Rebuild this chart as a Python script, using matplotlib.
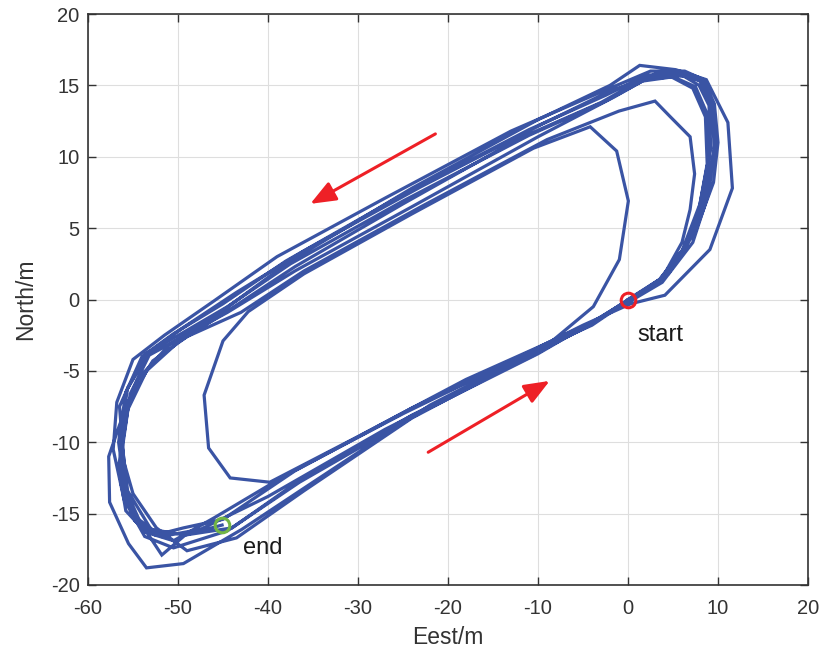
import matplotlib
matplotlib.use("Agg")
import matplotlib.pyplot as plt
import numpy as np

plt.rcParams['font.family'] = ['Liberation Sans', 'DejaVu Sans']
plt.rcParams['axes.unicode_minus'] = False

# Trajectory laps (east, north) in metres, driven counter-clockwise from the start point
lap1_e = [0, 3.0, 5.8, 7.8, 8.8, 8.6, 7.2, 4.8, 1.5, -3, -12, -25, -37, -44, -50, -53.5, -55.8, -56.6, -55.8, -53.6, -50.5, -46, -38, -25, -12, -5]
lap1_n = [0, 1.0, 3.0, 6.0, 9.5, 12.8, 14.8, 15.6, 15.4, 13.8, 11.3, 6.7, 2.3, -0.6, -3.0, -5.0, -8.0, -11.8, -14.8, -16.3, -16.9, -15.3, -12.3, -8.0, -4.0, -1.8]

lap2_e = [0.3, 4.1, 9.1, 11.6, 11.1, 8.7, 5.3, 1.3, -2.0, -10, -24, -37.5, -45.5, -51.0, -54.5, -56.5, -57.7, -57.6, -55.5, -53.5, -49.4, -42.9, -35, -22, -10, -4]
lap2_n = [-0.3, 0.3, 3.5, 7.8, 12.4, 15.4, 16.1, 16.4, 15.0, 12.6, 7.8, 2.7, -1.0, -3.2, -5.6, -8.8, -11.0, -14.2, -17.1, -18.8, -18.5, -16.1, -12.8, -7.4, -3.5, -1.8]

lap3_e = [0.2, 3.8, 6.0, 6.9, 7.4, 6.9, 4.7, 3.0, -1, -9, -23, -36, -43, -49, -52.8, -55.4, -56.2, -55.9, -54.8, -52.5, -49.4, -45, -37, -24, -8.7]
lap3_n = [0.0, 1.5, 4.0, 6.3, 8.8, 11.4, 12.8, 13.9, 13.2, 11.2, 6.5, 2.0, -0.9, -2.6, -4.3, -7.0, -10.5, -13.5, -15.5, -16.5, -16.0, -15.4, -12.0, -7.6, -3.05]

# short inner lap cutting both turns
inner_e = [-3.85, -0.96, 0.04, -1.26, -4.2, -10.5, -24, -36, -42.2, -45.0, -47.1, -46.6, -44.2, -39.8, -30, -18, -9.5, -4]
inner_n = [-0.5, 2.8, 6.9, 10.4, 12.1, 10.6, 6.0, 1.8, -0.85, -2.9, -6.7, -10.4, -12.5, -12.8, -9.6, -5.6, -3.2, -1.6]

lap4_e = [0.4, 3.5, 6.5, 8.5, 9.6, 9.3, 8.0, 5.5, 2.0, -2.5, -11, -26, -38, -45, -50.5, -54, -56.5, -56.0, -55.0, -52.4, -49.0, -43.5, -36, -24, -10.5, -4]
lap4_n = [0.1, 1.4, 3.8, 7.0, 10.5, 13.5, 15.3, 15.9, 15.7, 14.3, 11.9, 7.0, 2.7, -0.3, -2.4, -4.0, -7.5, -11.4, -13.6, -16.0, -17.6, -16.7, -13.4, -8.3, -3.8, -1.7]

lap5_e = [0.5, 4.5, 7.5, 9.5, 10.0, 9.6, 8.4, 6.3, 2.5, -3.5, -13, -27, -39, -46, -51.5, -55.0, -56.8, -57.2, -56.0, -53.7, -50.5, -44.5, -36.5, -23, -10, -4]
lap5_n = [0.2, 1.8, 4.8, 8.2, 11.0, 13.7, 15.4, 16.0, 16.0, 14.4, 11.8, 7.1, 3.0, -0.1, -2.5, -4.2, -7.2, -10.5, -14.0, -16.6, -17.4, -16.2, -12.8, -7.9, -3.8, -1.6]

lap6_e = [0.3, 3.8, 7.2, 9.0, 9.7, 9.2, 8.3, 6.8, 3.0, -1.5, -10, -24, -37, -44.5, -50, -53.2, -55.3, -56.2, -55.6, -53.0, -49.2, -44, -37, -24, -10.5, -4.2]
lap6_n = [-0.1, 1.2, 4.0, 7.5, 11.2, 13.8, 15.3, 15.6, 15.8, 14.2, 11.4, 6.5, 2.0, -0.9, -2.8, -3.9, -6.6, -10.2, -13.4, -16.1, -16.5, -16.0, -12.9, -8.1, -3.9, -1.7]

lap7_e = [0.1, 3.4, 6.6, 8.4, 9.2, 9.0, 7.9, 5.8, 2.2, -2.0, -9.5, -23, -36, -43.5, -49.5, -53.0, -55.6, -56.4, -56.3, -54.6, -51.8, -47.5, -40, -27, -12, -4.5]
lap7_n = [0.0, 1.3, 3.9, 7.2, 10.6, 13.6, 15.0, 15.8, 15.5, 14.6, 12.3, 7.9, 3.4, 0.5, -2.0, -3.6, -6.2, -9.5, -13.0, -15.3, -16.6, -16.1, -13.8, -9.1, -4.3, -1.9]

lap8_e = [0.2, 3.2, 6.0, 8.0, 9.0, 8.8, 7.5, 5.0, 1.6, -2.5, -11, -25, -37.5, -44.5, -50.2, -53.6, -55.8, -56.6, -55.9, -54.2, -51.8, -49.2, -45.1]
lap8_n = [0.0, 1.1, 3.4, 6.7, 10.0, 13.0, 14.9, 15.6, 15.3, 13.9, 11.5, 6.9, 2.5, -0.5, -2.6, -3.8, -6.5, -10.0, -13.2, -15.6, -17.9, -16.5, -15.8]

start_point = (0.0, 0.0)
end_point = (-45.1, -15.8)

# direction arrows (tail -> head)
arrow_upper = ((-21.4, 11.6), (-35.3, 6.7))
arrow_lower = ((-22.2, -10.7), (-8.7, -5.7))

x_ticks = [-60, -50, -40, -30, -20, -10, 0, 10, 20]
y_ticks = [-20, -15, -10, -5, 0, 5, 10, 15, 20]

east = np.concatenate([lap1_e, lap2_e, lap3_e, inner_e, lap4_e, lap5_e, lap6_e, lap7_e, lap8_e])
north = np.concatenate([lap1_n, lap2_n, lap3_n, inner_n, lap4_n, lap5_n, lap6_n, lap7_n, lap8_n])

ax_col = '#333333'
fig = plt.figure(figsize=(8.26, 6.58), dpi=100)
ax = fig.add_axes([88 / 826, 73 / 658, 720 / 826, 571 / 658])

ax.plot(east, north, color='#3A54A4', lw=2.3, solid_joinstyle='miter', zorder=3)

ax.plot(*start_point, 'o', ms=10.5, mfc='none', mec='#EE2026', mew=2.2, zorder=4)
ax.plot(*end_point, 'o', ms=10.5, mfc='none', mec='#72B545', mew=2.2, zorder=4)

for tail, head in (arrow_upper, arrow_lower):
    ax.annotate('', xy=head, xytext=tail,
                arrowprops=dict(arrowstyle='-|>,head_length=0.7,head_width=0.28',
                                color='#EE2026', lw=2.2,
                                mutation_scale=22, shrinkA=0, shrinkB=0),
                zorder=5)

ax.text(1.0, -2.5, 'start', fontsize=17, color='#1a1a1a', ha='left', va='center')
ax.text(-42.8, -17.4, 'end', fontsize=17, color='#1a1a1a', ha='left', va='center')

ax.set_xlim(-60, 20)
ax.set_ylim(-20, 20)
ax.set_xticks(x_ticks)
ax.set_yticks(y_ticks)
ax.grid(True, color='#dedede', lw=0.8)
ax.set_axisbelow(True)
ax.tick_params(direction='in', length=6, width=1.0, colors=ax_col, labelsize=14.5,
               top=True, right=True)
ax.tick_params(axis='x', pad=10)
ax.tick_params(axis='y', pad=6)
for sp in ax.spines.values():
    sp.set_color(ax_col)
    sp.set_linewidth(1.2)

ax.set_xlabel('Eest/m', fontsize=16.5, color=ax_col, labelpad=6)
ax.set_ylabel('North/m', fontsize=16.5, color=ax_col, labelpad=10)

fig.savefig('out.png', dpi=100)
